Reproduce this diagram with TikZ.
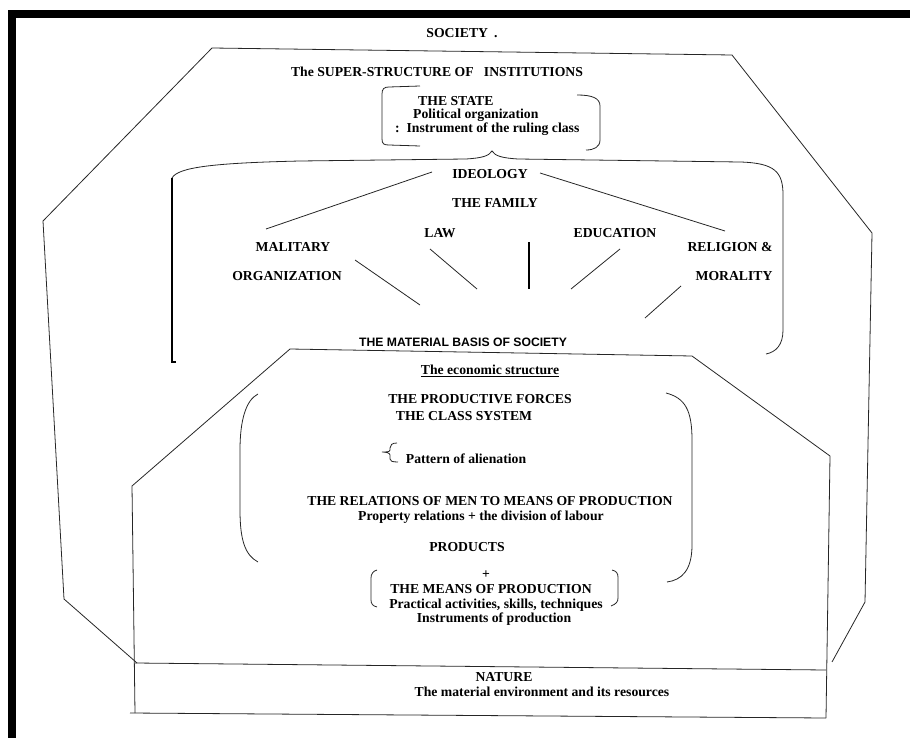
\documentclass[tikz,border=0pt]{standalone}
\usepackage{fontspec}
\setmainfont{Liberation Serif}
\newfontfamily\matsans{Liberation Sans}
\begin{document}
\begin{tikzpicture}[x=1pt,y=-1pt,
  lbl/.style={font=\fontsize{13.7}{16}\selectfont\bfseries, inner sep=0pt},
  sanslbl/.style={font=\matsans\fontsize{12.2}{14}\selectfont\bfseries, inner sep=0pt},
  ln/.style={line width=0.8pt, draw=black!85},
  frame/.style={fill=black, draw=none}]
\useasboundingbox (0,0) rectangle (910,738);
% black frame (top and left)
\fill[frame] (8,10) rectangle (910,18);
\fill[frame] (8,10) rectangle (16,738);

% society outer polygon
\draw[ln] (137,663) -- (64,599) -- (43,221) -- (212,48) -- (732,55) -- (872,233) -- (865,602) -- (832,662);

% material basis polygon + nature box
\draw[ln] (135,713) -- (132,486) -- (290,349) -- (692,356) -- (830,456) -- (826,718);
\draw[ln] (135,663) -- (826,670);
\draw[ln] (130,713) -- (826,718);

% state bracket
\draw[ln] (420,86) -- (389,87) .. controls (384,87) and (382,89) .. (382,94) -- (382,139) .. controls (382,144) and (384,145) .. (389,145) -- (420,146);
\draw[ln] (577,95) .. controls (592,95) and (600,98) .. (600,106) -- (600,140) .. controls (600,147) and (594,150) .. (586,150);

% ideology brace
\draw[line width=1.1pt] (176,362) -- (172,362) -- (172,178);
\draw[ln] (172,178) .. controls (178,167) and (215,163) .. (300,161) -- (466,159) .. controls (482,158) and (489,156) .. (492,151) .. controls (495,156) and (502,158) .. (518,159) -- (740,162) .. controls (775,163) and (783,172) .. (783,195) -- (783,330) .. controls (783,345) and (776,352) .. (766,354);

% big parentheses around productive forces
\draw[ln] (258,394) .. controls (246,400) and (240,420) .. (240,450) -- (240,510) .. controls (240,540) and (245,555) .. (258,562);
\draw[ln] (666,393) .. controls (685,398) and (692,410) .. (692,440) -- (692,545) .. controls (692,570) and (682,580) .. (667,582);

% small bracket around means of production
\draw[ln] (377,570) .. controls (373,571) and (371,574) .. (371,578) -- (371,600) .. controls (371,604) and (373,606) .. (377,607);
\draw[ln] (612,570) .. controls (616,571) and (618,573) .. (618,577) -- (618,598) .. controls (618,602) and (616,604) .. (611,606);

% alienation brace
\draw[ln] (397,443) .. controls (392,443) and (390,445) .. (390,448) -- (390,450) .. controls (390,452) and (386,452) .. (382,452) .. controls (386,452) and (390,453) .. (390,455) -- (390,459) .. controls (390,461) and (392,462) .. (398,462);

% texts
\node[lbl] (society) at (462,33) {SOCIETY\hspace{6pt}.};
\node[lbl] (super) at (437,72) {The SUPER-STRUCTURE OF\ \ \ INSTITUTIONS};
\node[lbl, anchor=west, align=left, font=\fontsize{13.7}{13.5}\selectfont\bfseries] (state) at (395,115.5)
  {\hspace{23pt}THE STATE\\\hspace{18pt}Political organization\\:\ \ Instrument of the ruling class};
\node[lbl] (ideology) at (490,174) {IDEOLOGY};
\node[lbl] (family) at (495,203) {THE FAMILY};
\node[lbl] (malitary) at (293,247) {MALITARY};
\node[lbl] (organization) at (287,276) {ORGANIZATION};
\node[lbl] (law) at (440,233) {LAW};
\node[lbl] (education) at (615,233) {EDUCATION};
\node[lbl] (religion) at (730,247) {RELIGION \&};
\node[lbl] (morality) at (734,276) {MORALITY};
\node[sanslbl] (material) at (463,342) {THE MATERIAL BASIS OF SOCIETY};
\node[lbl] (economic) at (490,371) {\underline{The economic structure}};
\node[lbl] (prodforces) at (480,399) {THE PRODUCTIVE FORCES};
\node[lbl] (classsys) at (464,416) {THE CLASS SYSTEM};
\node[lbl] (alien) at (466,459) {Pattern of alienation};
\node[lbl, align=center, font=\fontsize{13.7}{16}\selectfont\bfseries] (relations) at (490,510)
  {THE RELATIONS OF MEN TO MEANS OF PRODUCTION\\[-1pt]\hspace{-18pt}Property relations + the division of labour};
\node[lbl] (products) at (467,547) {PRODUCTS};
\node[lbl, align=center, font=\fontsize{13.7}{15}\selectfont\bfseries] (means) at (491,598)
  {\hspace{-10pt}+\\THE MEANS OF PRODUCTION\\\hspace{10pt}Practical activities, skills, techniques\\[-1.5pt]\hspace{6pt}Instruments of production};
\node[lbl, align=center, font=\fontsize{13.7}{15}\selectfont\bfseries] (nature) at (523,685)
  {\hspace{-38pt}NATURE\\\hspace{38pt}The material environment and its resources};

% ideology lines
\coordinate (ia) at (432,172);
\coordinate (ib) at (266,229);
\coordinate (ic) at (540,173);
\coordinate (id) at (725,231);
\draw[ln] (ia) -- (ib);
\draw[ln] (ic) -- (id);
% converging lines
\coordinate (c1a) at (355,260); \coordinate (c1b) at (420,305);
\coordinate (c2a) at (430,249); \coordinate (c2b) at (477,289);
\coordinate (c3a) at (529,242); \coordinate (c3b) at (529,289);
\coordinate (c4a) at (620,249); \coordinate (c4b) at (571,289);
\coordinate (c5a) at (681,286); \coordinate (c5b) at (645,318);
\draw[ln] (c1a) -- (c1b);
\draw[ln] (c2a) -- (c2b);
\draw[line width=1.1pt] (c3a) -- (c3b);
\draw[ln] (c4a) -- (c4b);
\draw[ln] (c5a) -- (c5b);
\end{tikzpicture}
\end{document}
